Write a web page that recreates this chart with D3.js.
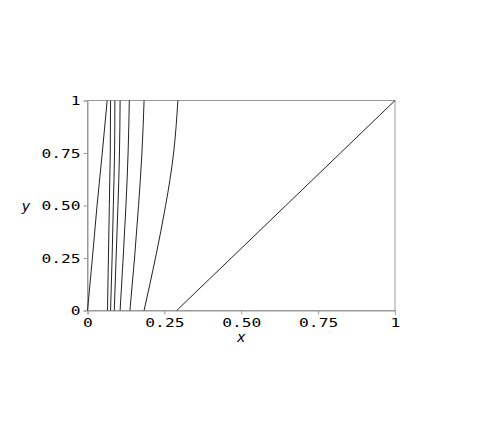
<!DOCTYPE html>
<html><head><meta charset="utf-8">
<script src="https://cdn.jsdelivr.net/npm/d3@7"></script>
<style>body{margin:0;background:#fff}svg{display:block}</style>
</head><body>
<svg id="c" width="491" height="436"></svg>
<script>
// y levels at which each curve's x value was read
const yLevels = [0, 0.25, 0.5, 0.75, 1];
const curveA = [0, 0.016, 0.031, 0.048, 0.064];
const curveB = [0.065, 0.068, 0.071, 0.074, 0.075];
const curveC = [0.075, 0.080, 0.084, 0.088, 0.089];
const curveD = [0.087, 0.093, 0.099, 0.104, 0.106];
const curveE = [0.106, 0.116, 0.125, 0.132, 0.136];
const curveF = [0.138, 0.153, 0.166, 0.177, 0.184];
const curveG = [0.184, 0.221, 0.254, 0.280, 0.294];
const diagonal = [0.29, 0.4675, 0.645, 0.8225, 1];
const curves = [curveA, curveB, curveC, curveD, curveE, curveF, curveG, diagonal];
const tickValues = [0, 0.25, 0.5, 0.75, 1];
const tickLabels = ["0", "0.25", "0.50", "0.75", "1"];

const svg = d3.select("#c");
const x = d3.scaleLinear().domain([0, 1]).range([87.5, 395]);
const y = d3.scaleLinear().domain([0, 1]).range([310.5, 100.5]);

const frame = "#9a9a9a";
svg.append("rect").attr("x", x(0)).attr("y", y(1))
  .attr("width", x(1) - x(0)).attr("height", y(0) - y(1))
  .attr("fill", "none").attr("stroke", frame).attr("stroke-width", 1);

const fmt = (d) => tickLabels[tickValues.indexOf(d)];
const sx = 1.3;
const xAxis = svg.append("g").attr("transform", `translate(0,${y(0)})`)
  .call(d3.axisBottom(x).tickValues(tickValues).tickFormat(fmt).tickSize(4).tickPadding(4));
const yAxis = svg.append("g").attr("transform", `translate(${x(0)},0)`)
  .call(d3.axisLeft(y).tickValues(tickValues).tickFormat(fmt).tickSize(4).tickPadding(3));
[xAxis, yAxis].forEach(g => {
  g.select(".domain").attr("stroke", frame);
  g.selectAll(".tick line").attr("stroke", frame);
  g.selectAll("text").attr("fill", "#000")
    .attr("transform", `scale(${sx},1)`)
    .style("font-family", "'DejaVu Sans Mono', monospace")
    .style("font-size", "12.5px");
});
yAxis.selectAll("text").attr("x", -7 / sx);

const line = d3.line().x(d => x(d[0])).y(d => y(d[1])).curve(d3.curveNatural);
curves.forEach(c => {
  svg.append("path").datum(c.map((v, i) => [v, yLevels[i]]))
    .attr("d", line).attr("fill", "none").attr("stroke", "#222").attr("stroke-width", 1);
});

svg.append("text").attr("x", x(0.5)).attr("y", 342).attr("text-anchor", "middle")
  .style("font-family", "'DejaVu Sans'").style("font-style", "italic").style("font-size", "14px").text("x");
svg.append("text").attr("x", 26).attr("y", 211).attr("text-anchor", "middle")
  .style("font-family", "'DejaVu Sans'").style("font-style", "italic").style("font-size", "14px").text("y");
</script>
</body></html>
